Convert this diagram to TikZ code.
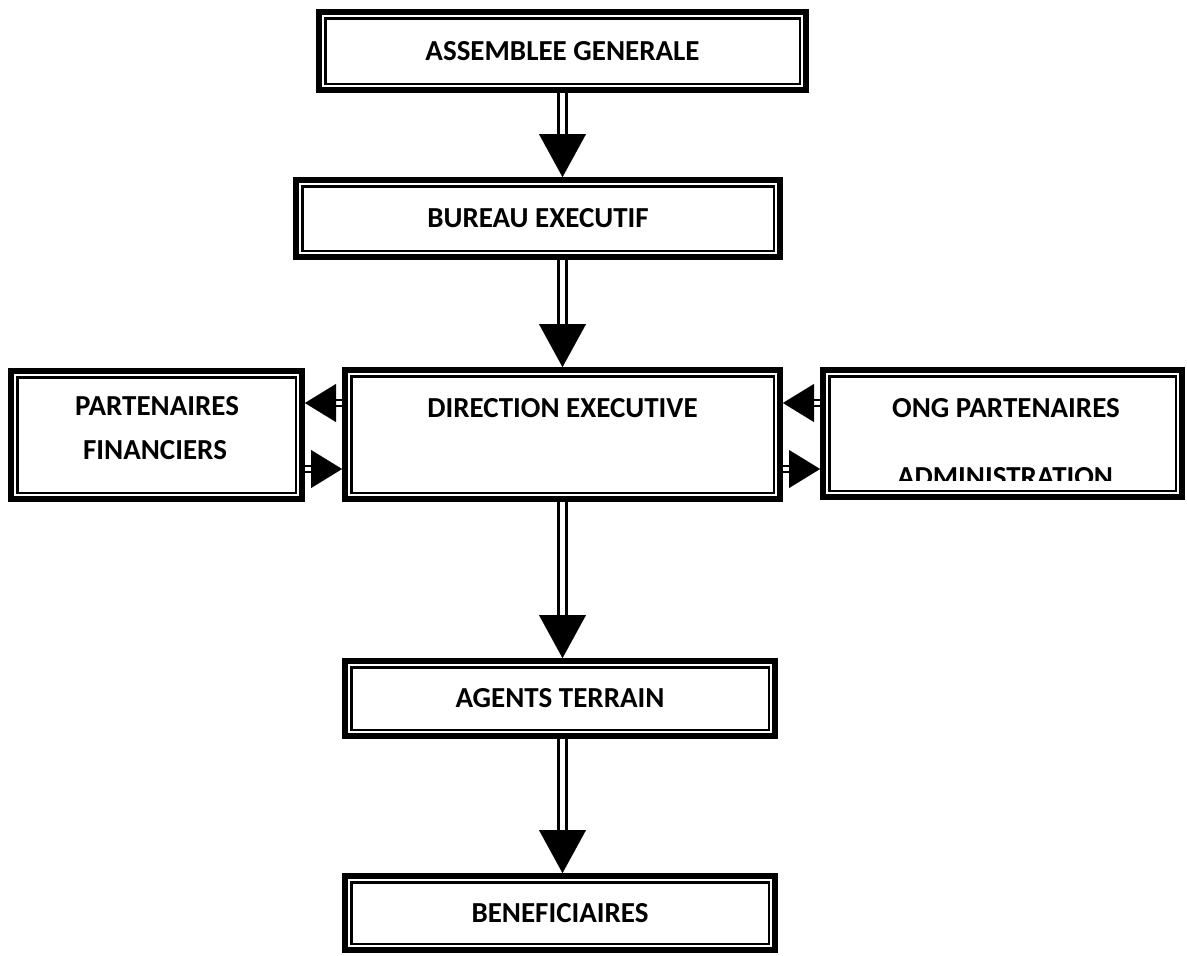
\documentclass[tikz,border=0pt]{standalone}
\usepackage{fontspec}
\setmainfont{Carlito}
\usetikzlibrary{arrows.meta}
\begin{document}
\begin{tikzpicture}[x=1pt,y=1pt,
  txt/.style={font=\fontsize{29}{34}\selectfont\bfseries},
  box/.style={draw=black, line width=6pt, inner sep=0pt, txt},
  innerline/.style={draw=black, line width=2.5pt},
  lbl/.style={inner sep=0pt, txt},
  vlink/.style={
    postaction={draw=black, double=white, double distance=5pt, line width=3pt, shorten >=38pt},
    postaction={draw=white, line width=0.1pt, -{Triangle[width=47pt,length=43pt,color=black,fill=black]}}},
  hlink/.style={
    postaction={draw=black, double=white, double distance=3.5pt, line width=2.5pt, shorten >=27pt},
    postaction={draw=white, line width=0.1pt, -{Triangle[width=38pt,length=31pt,color=black,fill=black]}}}
]
\fill[white] (0,0) rectangle (1187,-956);
\useasboundingbox (0,0) rectangle (1187,-956);

\node[box, minimum width=487pt, minimum height=78pt] (ag) at (562.5,-51) {ASSEMBLEE GENERALE};
\node[box, minimum width=484pt, minimum height=77pt] (bu) at (538,-218.5) {BUREAU EXECUTIF};
\node[box, minimum width=435pt, minimum height=129pt] (de) at (562.5,-434.5) {};
\node[lbl] (de-t) at (562.5,-408) {DIRECTION EXECUTIVE};
\node[box, minimum width=291pt, minimum height=128pt] (pf) at (156.5,-435) {};
\node[lbl] (pf-t1) at (157,-406) {PARTENAIRES};
\node[lbl] (pf-t2) at (155,-450) {FINANCIERS};
\node[box, minimum width=359pt, minimum height=127pt] (ong) at (1002.5,-433.5) {};
\node[lbl] (ong-t1) at (1006,-408) {ONG PARTENAIRES};
\begin{scope}
  \clip (820,-367) rectangle (1185,-480);
  \node[lbl] (ong-t2) at (1005,-477) {ADMINISTRATION};
\end{scope}
\node[box, minimum width=430pt, minimum height=75pt] (at) at (560,-698.5) {AGENTS TERRAIN};
\node[box, minimum width=430pt, minimum height=74pt] (ben) at (560,-913) {BENEFICIAIRES};

\foreach \n in {ag,bu,de,pf,ong,at,ben}
  \draw[innerline] ([xshift=9.25pt,yshift=-9.25pt]\n.north west) rectangle ([xshift=-9.25pt,yshift=9.25pt]\n.south east);

\coordinate (spine) at (562.5,0);
\coordinate (ytop) at (0,-403);
\coordinate (ybot) at (0,-469);

\path[vlink] (ag.south -| spine) -- (bu.north -| spine);
\path[vlink] (bu.south -| spine) -- (de.north -| spine);
\path[vlink] (de.south -| spine) -- (at.north -| spine);
\path[vlink] (at.south -| spine) -- (ben.north -| spine);

\path[hlink] (de.west |- ytop) -- (pf.east |- ytop);
\path[hlink] (pf.east |- ybot) -- (de.west |- ybot);
\path[hlink] (ong.west |- ytop) -- (de.east |- ytop);
\path[hlink] (de.east |- ybot) -- (ong.west |- ybot);
\end{tikzpicture}
\end{document}
